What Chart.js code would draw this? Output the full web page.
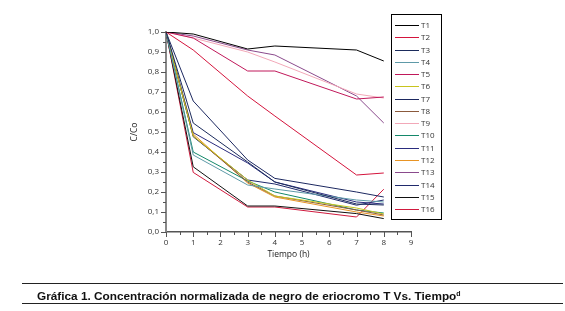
<!DOCTYPE html>
<html>
<head>
<meta charset="utf-8">
<script src="https://cdn.jsdelivr.net/npm/chart.js@4.4.0/dist/chart.umd.min.js"></script>
<style>
  body { margin: 0; background: #fff; }
  #wrap { position: relative; width: 565px; height: 311px; }
  #caption {
    position: absolute; left: 22px; top: 283px; width: 541px; height: 21px;
    border-top: 1px solid #222; border-bottom: 1px solid #222;
    font: bold 11.8px "Liberation Sans", Arial, sans-serif; line-height: 20px;
    padding-left: 15px; box-sizing: border-box; color: #111;
  }
  #caption sup { font-size: 7px; vertical-align: 4px; }
</style>
</head>
<body>
<div id="wrap">
  <canvas id="grafica" width="565" height="311"></canvas>
  <div id="caption">Gráfica 1. Concentración normalizada de negro de eriocromo T Vs. Tiempo<sup>d</sup></div>
</div>
<script>
// tiempos de muestreo (h)
const tiempos = [0, 1, 3, 4, 7, 8];
const nombres = ['T1','T2','T3','T4','T5','T6','T7','T8','T9','T10','T11','T12','T13','T14','T15','T16'];
// C/Co por tratamiento
const T1  = [1, 0.99, 0.915, 0.93, 0.91, 0.855];
const T2  = [1, 0.91, 0.68, 0.58, 0.285, 0.295];
const T3  = [1, 0.545, 0.35, 0.25, 0.14, 0.135];
const T4  = [1, 0.385, 0.235, 0.215, 0.16, 0.15];
const T5  = [1, 0.97, 0.805, 0.805, 0.665, 0.675];
const T6  = [1, 0.48, 0.26, 0.18, 0.12, 0.09];
const T7  = [1, 0.655, 0.36, 0.268, 0.2, 0.175];
const T8  = [1, 0.48, 0.25, 0.18, 0.11, 0.085];
const T9  = [1, 0.97, 0.9, 0.85, 0.69, 0.67];
const T10 = [1, 0.4, 0.255, 0.2, 0.11, 0.095];
const T11 = [1, 0.497, 0.345, 0.25, 0.15, 0.14];
const T12 = [1, 0.49, 0.245, 0.175, 0.1, 0.08];
const T13 = [1, 0.98, 0.91, 0.885, 0.68, 0.545];
const T14 = [1, 0.476, 0.26, 0.24, 0.134, 0.16];
const T15 = [1, 0.326, 0.13, 0.13, 0.092, 0.067];
const T16 = [1, 0.298, 0.125, 0.125, 0.075, 0.214];
const series = [T1,T2,T3,T4,T5,T6,T7,T8,T9,T10,T11,T12,T13,T14,T15,T16];
const colores = ['#000000','#d4143c','#1b2b5c','#5e9aa8','#c0185a','#c8c41e','#1c2860','#8b5a3c',
                 '#f2a8b8','#14886a','#2a2c7e','#e89424','#8a4a8c','#202a6c','#111111','#d01a3e'];

const datasets = series.map((s, i) => ({
  label: nombres[i],
  data: s.map((v, k) => ({ x: tiempos[k], y: v })),
  borderColor: colores[i],
  backgroundColor: colores[i],
  borderWidth: 1,
  pointRadius: 0,
  tension: 0
}));

// ticks menores y mayores como en Origin
const ticksPlugin = {
  id: 'ticks',
  afterDraw(chart) {
    const ctx = chart.ctx, x = chart.scales.x, y = chart.scales.y;
    ctx.save();
    ctx.strokeStyle = '#555';
    ctx.lineWidth = 1;
    ctx.beginPath();
    for (let v = 0; v <= 9.001; v += 0.5) {
      const px = Math.round(x.getPixelForValue(v)) + 0.5;
      const len = (Math.abs(v - Math.round(v)) < 0.01) ? 5 : 3;
      ctx.moveTo(px, y.bottom); ctx.lineTo(px, y.bottom + len);
    }
    for (let v = 0; v <= 1.001; v += 0.05) {
      const py = Math.round(y.getPixelForValue(v)) + 0.5;
      const len = (Math.abs(v * 10 - Math.round(v * 10)) < 0.01) ? 5 : 3;
      ctx.moveTo(x.left, py); ctx.lineTo(x.left - len, py);
    }
    ctx.stroke();
    ctx.restore();
  }
};

// leyenda en caja
const leyendaPlugin = {
  id: 'leyenda',
  afterDraw(chart) {
    const ctx = chart.ctx;
    const bx = 391, by = 14, bw = 50, bh = 205;
    ctx.save();
    ctx.fillStyle = '#fff';
    ctx.fillRect(bx, by, bw, bh);
    ctx.strokeStyle = '#000';
    ctx.lineWidth = 1;
    ctx.strokeRect(bx + 0.5, by + 0.5, bw, bh);
    ctx.font = '8px "Open Sans", sans-serif';
    ctx.textBaseline = 'middle';
    ctx.fillStyle = '#333';
    chart.data.datasets.forEach((d, i) => {
      const yy = Math.round(by + 11 + i * 12.27) + 0.5;
      ctx.strokeStyle = d.borderColor;
      ctx.beginPath();
      ctx.moveTo(bx + 4, yy); ctx.lineTo(bx + 28, yy);
      ctx.stroke();
      ctx.fillText(d.label, bx + 30, yy);
    });
    ctx.restore();
  }
};

const ctx = document.getElementById('grafica').getContext('2d');
new Chart(ctx, {
  type: 'line',
  data: { datasets: datasets },
  options: {
    responsive: false,
    animation: false,
    layout: { padding: { left: 127, top: 32, right: 154, bottom: 49 } },
    plugins: { legend: { display: false }, tooltip: { enabled: false } },
    scales: {
      x: {
        type: 'linear', min: 0, max: 9,
        afterFit: s => { s.height = 30; },
        grid: { display: false, drawTicks: false },
        border: { display: true, color: '#555', width: 1.5 },
        ticks: { stepSize: 1, padding: 6, color: '#333', font: { family: 'Open Sans', size: 8 } },
        title: { display: true, text: 'Tiempo (h)', color: '#222', padding: { top: 0, bottom: 2 },
                 font: { family: 'Open Sans', size: 8.5 } }
      },
      y: {
        type: 'linear', min: 0, max: 1,
        afterFit: s => { s.width = 39; },
        grid: { display: false, drawTicks: false },
        border: { display: true, color: '#888', width: 2 },
        ticks: { stepSize: 0.1, padding: 7, color: '#333', font: { family: 'Open Sans', size: 8 },
                 callback: v => v.toFixed(1).replace('.', ',') },
        title: { display: true, text: 'C/Co', color: '#222', padding: { top: 2, bottom: 0 },
                 font: { family: 'Open Sans', size: 8.5 } }
      }
    }
  },
  plugins: [ticksPlugin, leyendaPlugin]
});
</script>
</body>
</html>
